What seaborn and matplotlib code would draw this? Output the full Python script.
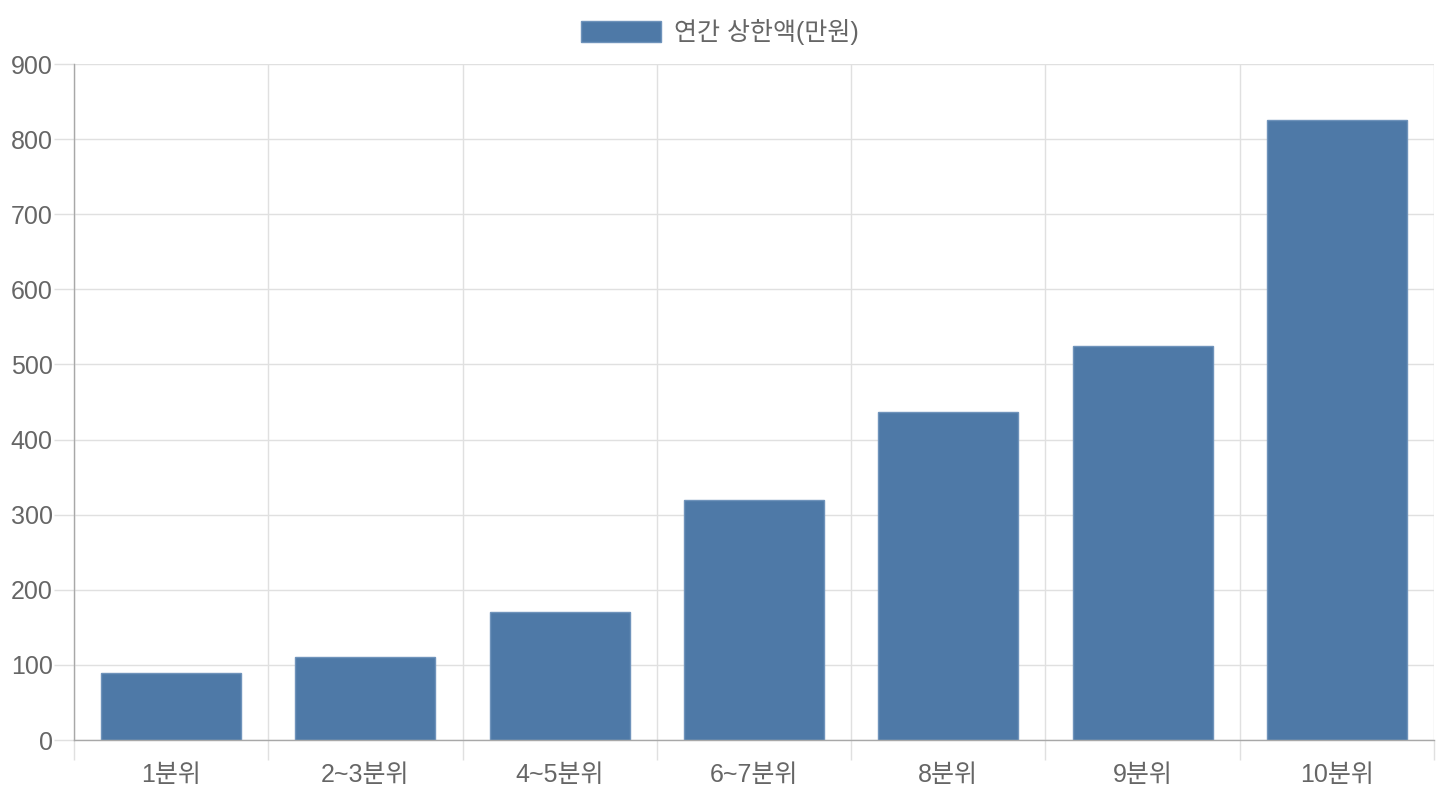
import matplotlib
matplotlib.use("Agg")
import matplotlib.pyplot as plt
import seaborn as sns
import pandas as pd
from matplotlib.patches import Patch
from matplotlib.ticker import FixedLocator

categories = ["1분위", "2~3분위", "4~5분위", "6~7분위", "8분위", "9분위", "10분위"]
values = [89, 110, 170, 320, 437, 525, 826]
series_name = "연간 상한액(만원)"
y_ticks = [0, 100, 200, 300, 400, 500, 600, 700, 800, 900]

sns.set_theme(style="white")
plt.rcParams['font.family'] = ['Liberation Sans', 'Noto Sans CJK KR', 'DejaVu Sans']

BAR = "#4e79a7"
GRID = "#e0e0e0"
AXIS = "#a8a8a8"
TEXT = "#666666"
FS = 18
TICKLEN = 14.4  # 20 px at 100 dpi

df = pd.DataFrame({"cat": categories, "val": values})

fig = plt.figure(figsize=(14.4, 8), dpi=100)
ax = fig.add_axes([74/1440, 60/800, 1360/1440, 676/800])

sns.barplot(data=df, x="cat", y="val", ax=ax, color=BAR, saturation=1,
            width=0.72, edgecolor="#6f93bb", linewidth=1, zorder=3)

ax.set_xlim(-0.5, len(categories) - 0.5)
ax.set_ylim(0, 900)
ax.set_xlabel("")
ax.set_ylabel("")

ax.yaxis.set_major_locator(FixedLocator(y_ticks))
ax.set_yticklabels([str(v) for v in y_ticks])
ax.xaxis.set_minor_locator(FixedLocator([i - 0.5 for i in range(len(categories) + 1)]))

ax.tick_params(axis="x", which="major", length=0, pad=16.5, labelsize=FS, labelcolor=TEXT)
ax.tick_params(axis="x", which="minor", length=TICKLEN, width=1, color=GRID, bottom=True)
ax.tick_params(axis="y", which="major", length=TICKLEN, width=1, color=GRID, pad=1,
               labelsize=FS, labelcolor=TEXT, left=True)

ax.grid(False)
ax.yaxis.grid(True, which="major", color=GRID, linewidth=1, zorder=0)
ax.xaxis.grid(True, which="minor", color=GRID, linewidth=1, zorder=0)
ax.set_axisbelow(True)

for s in ["top", "right"]:
    ax.spines[s].set_visible(False)
for s in ["left", "bottom"]:
    ax.spines[s].set_color(AXIS)
    ax.spines[s].set_linewidth(1)
    ax.spines[s].set_zorder(4)

handle = Patch(facecolor=BAR, edgecolor="#6f93bb", linewidth=1)
fig.legend([handle], [series_name], loc="center", bbox_to_anchor=(720/1440, 1 - 32/800),
           frameon=False, fontsize=FS, labelcolor=TEXT,
           handlelength=3.2, handleheight=0.92, handletextpad=0.52)

fig.savefig("out.png", dpi=100)
